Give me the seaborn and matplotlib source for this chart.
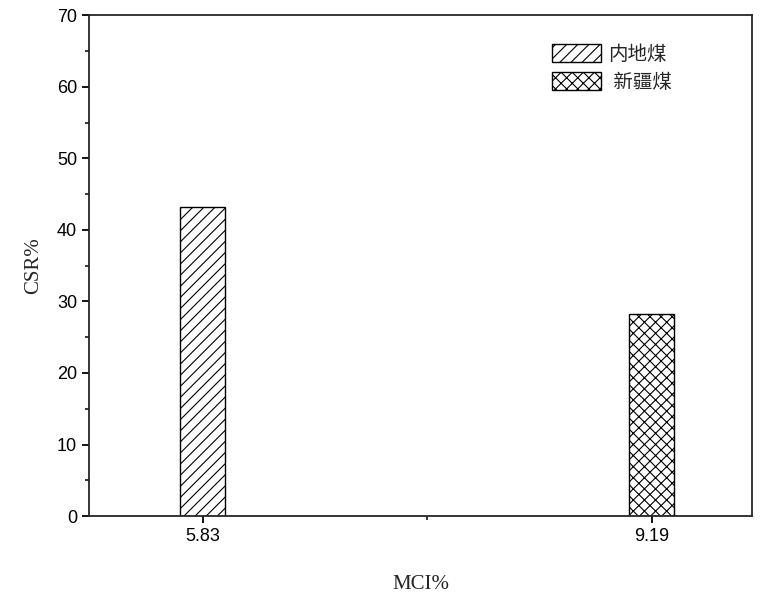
import pandas as pd
import matplotlib
matplotlib.use("Agg")
import matplotlib.pyplot as plt
from matplotlib.patches import Patch
from matplotlib.ticker import MultipleLocator
import seaborn as sns

# data
mci = ["5.83", "9.19"]
csr = [43.2, 28.3]
coal = ["内地煤", "新疆煤"]
hatches = ["///", "xxx"]

df = pd.DataFrame({"MCI": mci, "CSR": csr, "coal": coal})

sns.set_style("ticks")
plt.rcParams["font.family"] = ["Liberation Sans", "Noto Sans CJK SC"]
plt.rcParams["hatch.color"] = "#555555"
plt.rcParams["hatch.linewidth"] = 0.8

fig, ax = plt.subplots(figsize=(7.8, 6.1), dpi=100)
fig.subplots_adjust(left=0.114, right=0.964, top=0.975, bottom=0.154)

sns.barplot(data=df, x="MCI", y="CSR", hue="coal", dodge=False, width=0.1,
            palette=["white", "white"], edgecolor="black", linewidth=1.0,
            legend=False, ax=ax)

for bar, h in zip(ax.patches, hatches):
    bar.set_hatch(h)

ax.set_xlim(-0.254, 1.223)
ax.set_ylim(0, 70)
ax.yaxis.set_major_locator(MultipleLocator(10))
ax.yaxis.set_minor_locator(MultipleLocator(5))
ax.set_xticks([0.5], minor=True)

for s in ax.spines.values():
    s.set_linewidth(1.3)
ax.tick_params(axis="both", which="major", direction="out", length=5, width=1.3,
               labelsize=13, colors="black")
ax.tick_params(axis="both", which="minor", direction="out", length=3, width=1.3)

ax.set_xlabel("MCI%", family="Liberation Serif", fontsize=15, labelpad=22)
ax.set_ylabel("CSR%", family="Liberation Serif", fontsize=15, labelpad=10)

handles = [Patch(facecolor="white", edgecolor="black", hatch=h, linewidth=1.0)
           for h in hatches]
ax.legend(handles, ["内地煤", " 新疆煤"], loc="upper right",
          bbox_to_anchor=(0.905, 0.978), frameon=False,
          prop={"family": ["Noto Sans CJK SC"], "size": 14},
          handlelength=2.5, handleheight=1.1, handletextpad=0.4, labelspacing=0.35)

fig.savefig("out.png", dpi=100)
